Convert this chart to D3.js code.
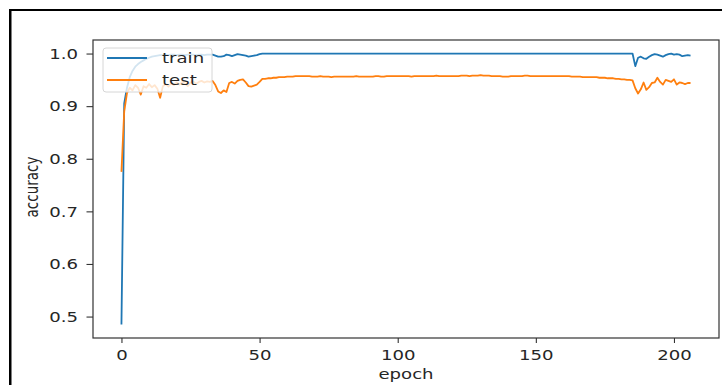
<!DOCTYPE html>
<html>
<head>
<meta charset="utf-8">
<script src="https://cdn.jsdelivr.net/npm/d3@7"></script>
<style>
  html, body { margin: 0; padding: 0; background: #ffffff; }
  svg { display: block; }
  text { font-family: "DejaVu Sans", sans-serif; fill: #262626; }
</style>
</head>
<body>
<svg id="chart" width="722" height="385"></svg>
<script>
// ---- data ----
const seriesNames = ["train", "test"];
const train = [
  0.485, 0.905, 0.935, 0.955, 0.967, 0.975, 0.980, 0.984, 0.987, 0.990,
  0.992, 0.994, 0.995, 0.996, 0.997, 0.997, 0.998, 0.997, 0.998, 0.998,
  0.997, 0.998, 0.998, 0.997, 0.998, 0.998, 0.998, 0.997, 0.998, 0.998,
  0.997, 0.998, 0.998, 0.998, 0.996, 0.994, 0.994, 0.995, 0.998, 0.997,
  0.995, 0.997, 0.999, 0.998, 0.997, 0.996, 0.994, 0.995, 0.996, 0.997,
  0.999, 1.0, 1.0, 1.0, 1.0, 1.0, 1.0, 1.0, 1.0, 1.0,
  1.0, 1.0, 1.0, 1.0, 1.0, 1.0, 1.0, 1.0, 1.0, 1.0,
  1.0, 1.0, 1.0, 1.0, 1.0, 1.0, 1.0, 1.0, 1.0, 1.0,
  1.0, 1.0, 1.0, 1.0, 1.0, 1.0, 1.0, 1.0, 1.0, 1.0,
  1.0, 1.0, 1.0, 1.0, 1.0, 1.0, 1.0, 1.0, 1.0, 1.0,
  1.0, 1.0, 1.0, 1.0, 1.0, 1.0, 1.0, 1.0, 1.0, 1.0,
  1.0, 1.0, 1.0, 1.0, 1.0, 1.0, 1.0, 1.0, 1.0, 1.0,
  1.0, 1.0, 1.0, 1.0, 1.0, 1.0, 1.0, 1.0, 1.0, 1.0,
  1.0, 1.0, 1.0, 1.0, 1.0, 1.0, 1.0, 1.0, 1.0, 1.0,
  1.0, 1.0, 1.0, 1.0, 1.0, 1.0, 1.0, 1.0, 1.0, 1.0,
  1.0, 1.0, 1.0, 1.0, 1.0, 1.0, 1.0, 1.0, 1.0, 1.0,
  1.0, 1.0, 1.0, 1.0, 1.0, 1.0, 1.0, 1.0, 1.0, 1.0,
  1.0, 1.0, 1.0, 1.0, 1.0, 1.0, 1.0, 1.0, 1.0, 1.0,
  1.0, 1.0, 1.0, 1.0, 1.0, 1.0, 0.976, 0.992, 0.994, 0.991,
  0.990, 0.994, 0.997, 0.999, 0.998, 0.996, 0.994, 0.997, 0.999, 1.0,
  0.998, 0.999, 0.998, 0.995, 0.996, 0.997, 0.996
];
const test = [
  0.775, 0.890, 0.925, 0.935, 0.930, 0.940, 0.935, 0.922, 0.938, 0.935,
  0.942, 0.936, 0.940, 0.933, 0.916, 0.938, 0.942, 0.937, 0.944, 0.940,
  0.945, 0.941, 0.946, 0.943, 0.938, 0.945, 0.947, 0.942, 0.946, 0.948,
  0.945, 0.947, 0.946, 0.948, 0.940, 0.928, 0.925, 0.930, 0.927, 0.944,
  0.946, 0.943, 0.948, 0.950, 0.951, 0.945, 0.938, 0.937, 0.939, 0.941,
  0.946, 0.952, 0.952, 0.953, 0.953, 0.954, 0.954, 0.955, 0.955, 0.955,
  0.956, 0.956, 0.956, 0.957, 0.957, 0.957, 0.957, 0.957, 0.957, 0.956,
  0.956, 0.956, 0.957, 0.956, 0.956, 0.956, 0.955, 0.956, 0.956, 0.956,
  0.956, 0.956, 0.956, 0.956, 0.956, 0.957, 0.956, 0.956, 0.956, 0.956,
  0.956, 0.956, 0.957, 0.957, 0.956, 0.956, 0.957, 0.957, 0.957, 0.957,
  0.957, 0.957, 0.957, 0.957, 0.957, 0.956, 0.957, 0.957, 0.957, 0.957,
  0.957, 0.957, 0.957, 0.957, 0.958, 0.957, 0.957, 0.957, 0.957, 0.957,
  0.957, 0.957, 0.957, 0.958, 0.958, 0.958, 0.957, 0.958, 0.958, 0.958,
  0.959, 0.958, 0.958, 0.958, 0.957, 0.957, 0.957, 0.957, 0.956, 0.956,
  0.956, 0.957, 0.957, 0.957, 0.957, 0.957, 0.958, 0.958, 0.957, 0.957,
  0.957, 0.957, 0.957, 0.957, 0.957, 0.957, 0.957, 0.957, 0.957, 0.957,
  0.957, 0.957, 0.957, 0.956, 0.956, 0.956, 0.956, 0.955, 0.955, 0.955,
  0.955, 0.955, 0.955, 0.954, 0.954, 0.954, 0.953, 0.953, 0.953, 0.952,
  0.952, 0.951, 0.951, 0.950, 0.950, 0.949, 0.934, 0.924, 0.932, 0.945,
  0.931, 0.936, 0.944, 0.945, 0.954, 0.946, 0.941, 0.950, 0.948, 0.946,
  0.951, 0.941, 0.945, 0.944, 0.942, 0.944, 0.944
];
const xTicks = [0, 50, 100, 150, 200];
const yTicks = [0.5, 0.6, 0.7, 0.8, 0.9, 1.0];
const xLabel = "epoch";
const yLabel = "accuracy";
const colors = ["#1f77b4", "#ff7f0e"];

// ---- layout ----
const SX = 1.34;          // horizontal stretch of the reference image text
const FS = 13.5;
const plot = { left: 93, right: 719, top: 40, bottom: 338 };

const svg = d3.select("#chart");

// outer frame (top and left black edges)
svg.append("rect").attr("x", 9).attr("y", 9).attr("width", 713).attr("height", 2).attr("fill", "#000");
svg.append("rect").attr("x", 9).attr("y", 9).attr("width", 2.5).attr("height", 376).attr("fill", "#000");

const n = train.length;
const x = d3.scaleLinear()
  .domain([-(n - 1) * 0.05, (n - 1) * 1.05])
  .range([plot.left, plot.right]);
const yMin = d3.min([...train, ...test]);
const yMax = d3.max([...train, ...test]);
const pad = (yMax - yMin) * 0.05;
const y = d3.scaleLinear()
  .domain([yMin - pad, yMax + pad])
  .range([plot.bottom, plot.top]);

svg.append("clipPath").attr("id", "clip")
  .append("rect")
  .attr("x", plot.left).attr("y", plot.top)
  .attr("width", plot.right - plot.left).attr("height", plot.bottom - plot.top);

// lines
const line = d3.line().x((d, i) => x(i)).y(d => y(d));
const lines = svg.append("g").attr("clip-path", "url(#clip)");
[train, test].forEach((s, k) => {
  lines.append("path")
    .datum(s)
    .attr("d", line)
    .attr("fill", "none")
    .attr("stroke", colors[k])
    .attr("stroke-width", 1.8)
    .attr("stroke-linejoin", "round");
});

// axes
const xAxis = svg.append("g")
  .attr("transform", `translate(0,${plot.bottom})`)
  .call(d3.axisBottom(x).tickValues(xTicks).tickFormat(d3.format("d")).tickSize(5).tickSizeOuter(0));
const yAxis = svg.append("g")
  .attr("transform", `translate(${plot.left},0)`)
  .call(d3.axisLeft(y).tickValues(yTicks).tickFormat(d3.format(".1f")).tickSize(6.5).tickSizeOuter(0));

[xAxis, yAxis].forEach(a => {
  a.select(".domain").remove();
  a.selectAll(".tick line").attr("stroke", "#333").attr("stroke-width", 1.1);
  a.selectAll(".tick text")
    .style("font-family", "DejaVu Sans, sans-serif")
    .style("font-size", FS + "px")
    .attr("fill", "#262626");
});
xAxis.selectAll(".tick text")
  .attr("y", 12).attr("dy", "0.71em")
  .attr("transform", `scale(${SX},1)`);
yAxis.selectAll(".tick text")
  .attr("x", -15 / SX).attr("dy", "0.35em")
  .attr("transform", `scale(${SX},1)`);

// spines
svg.append("rect")
  .attr("x", plot.left).attr("y", plot.top)
  .attr("width", plot.right - plot.left).attr("height", plot.bottom - plot.top)
  .attr("fill", "none").attr("stroke", "#333").attr("stroke-width", 1.2);

// axis labels
svg.append("text")
  .attr("transform", `translate(${(plot.left + plot.right) / 2},379) scale(${SX},1)`)
  .attr("text-anchor", "middle")
  .style("font-size", FS + "px")
  .text(xLabel);
svg.append("text")
  .attr("transform", `translate(38,187) scale(${SX},1) rotate(-90)`)
  .attr("text-anchor", "middle")
  .style("font-size", FS + "px")
  .text(yLabel);

// legend
const lg = svg.append("g");
lg.append("rect")
  .attr("x", 103).attr("y", 48).attr("width", 109).attr("height", 44)
  .attr("rx", 3).attr("ry", 3)
  .attr("fill", "#ffffff").attr("fill-opacity", 0.8)
  .attr("stroke", "#d6d6d6").attr("stroke-width", 1);
seriesNames.forEach((name, k) => {
  const yy = 58 + k * 22;
  lg.append("line")
    .attr("x1", 107).attr("x2", 147).attr("y1", yy).attr("y2", yy)
    .attr("stroke", colors[k]).attr("stroke-width", 1.8);
  lg.append("text")
    .attr("transform", `translate(162,${yy}) scale(${SX},1)`)
    .attr("dy", "0.35em")
    .style("font-size", FS + "px")
    .text(name);
});
</script>
</body>
</html>
